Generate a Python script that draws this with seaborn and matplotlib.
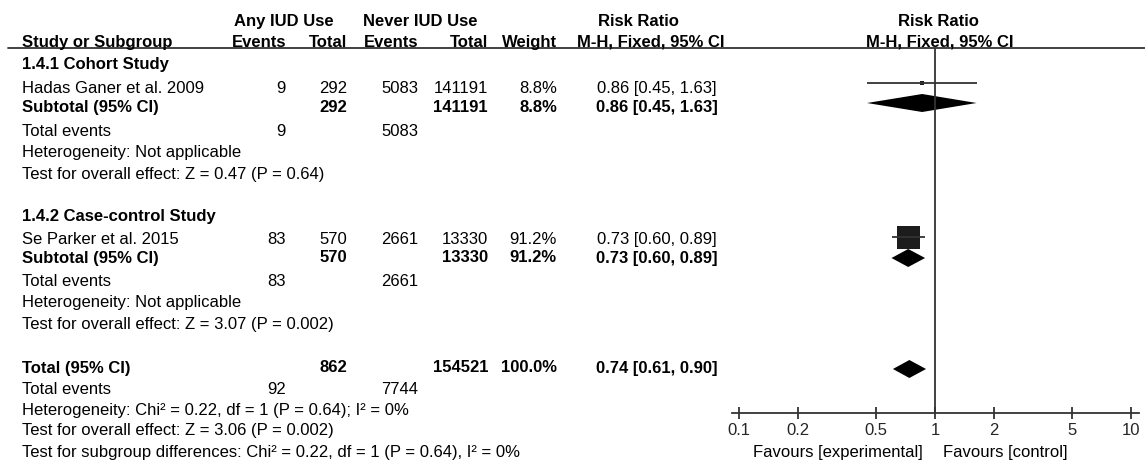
import matplotlib
matplotlib.use("Agg")
import matplotlib.pyplot as plt
import numpy as np
import seaborn as sns

# ── data ───────────────────────────────────────────────────────────────────────
study_names = ["Hadas Ganer et al. 2009", "Se Parker et al. 2015"]
any_events = [9, 83]
any_total = [292, 570]
never_events = [5083, 2661]
never_total = [141191, 13330]
weights = [8.8, 91.2]
rr = [0.86, 0.73]
rr_lo = [0.45, 0.60]
rr_hi = [1.63, 0.89]

group_titles = ["1.4.1 Cohort Study", "1.4.2 Case-control Study"]
group_het = ["Heterogeneity: Not applicable", "Heterogeneity: Not applicable"]
group_test = ["Test for overall effect: Z = 0.47 (P = 0.64)",
              "Test for overall effect: Z = 3.07 (P = 0.002)"]
sub_rr = [0.86, 0.73]
sub_lo = [0.45, 0.60]
sub_hi = [1.63, 0.89]

total_any = 862
total_never = 154521
total_events_any = 92
total_events_never = 7744
total_rr, total_lo, total_hi = 0.74, 0.61, 0.90
total_notes = ["Heterogeneity: Chi² = 0.22, df = 1 (P = 0.64); I² = 0%",
               "Test for overall effect: Z = 3.06 (P = 0.002)",
               "Test for subgroup differences: Chi² = 0.22, df = 1 (P = 0.64), I² = 0%"]

xticks = [0.1, 0.2, 0.5, 1, 2, 5, 10]
xtick_labels = ["0.1", "0.2", "0.5", "1", "2", "5", "10"]

# ── layout (pixel rows / columns of the 1145x474 canvas) ───────────────────────
W, H = 1145, 474
FS = 12
sns.set_theme(style="white")
plt.rcParams["font.family"] = ["Liberation Sans", "DejaVu Sans"]

COL_X = {"ev1": 286, "tot1": 347, "ev2": 418, "tot2": 488, "wt": 557, "rr": 657}
group_rows = [64, 217]
study_rows = [88, 239]
sub_rows = [107, 258]
te_rows = [132, 282]
het_rows = [153, 303]
test_rows = [174, 324]
mark_rows = [83, 237]
dia_rows = [103, 258]
total_row, total_dia = 368, 369
total_te_row = 389
total_note_rows = [410, 431, 452]

fig = plt.figure(figsize=(W / 100, H / 100), dpi=100)
ax = fig.add_axes([0, 0, 1, 1])
ax.set_xlim(0, W)
ax.set_ylim(H, 0)
ax.axis("off")


def txt(x, y, s, ha="left", bold=False):
    ax.text(x, y, s, ha=ha, va="center", fontsize=FS,
            fontweight="bold" if bold else "normal", color="black")


# header
txt(284, 21, "Any IUD Use", ha="center", bold=True)
txt(420, 21, "Never IUD Use", ha="center", bold=True)
txt(638, 21, "Risk Ratio", ha="center", bold=True)
txt(938, 21, "Risk Ratio", ha="center", bold=True)
txt(22, 42, "Study or Subgroup", bold=True)
txt(COL_X["ev1"], 42, "Events", ha="right", bold=True)
txt(COL_X["tot1"], 42, "Total", ha="right", bold=True)
txt(COL_X["ev2"], 42, "Events", ha="right", bold=True)
txt(COL_X["tot2"], 42, "Total", ha="right", bold=True)
txt(COL_X["wt"], 42, "Weight", ha="right", bold=True)
txt(651, 42, "M-H, Fixed, 95% CI", ha="center", bold=True)
txt(940, 42, "M-H, Fixed, 95% CI", ha="center", bold=True)
ax.plot([8, W], [48, 48], color="#333333", lw=1.3)

# subgroups
for i in range(2):
    txt(22, group_rows[i], group_titles[i], bold=True)
    y = study_rows[i]
    txt(22, y, study_names[i])
    txt(COL_X["ev1"], y, str(any_events[i]), ha="right")
    txt(COL_X["tot1"], y, str(any_total[i]), ha="right")
    txt(COL_X["ev2"], y, str(never_events[i]), ha="right")
    txt(COL_X["tot2"], y, str(never_total[i]), ha="right")
    txt(COL_X["wt"], y, f"{weights[i]:.1f}%", ha="right")
    txt(COL_X["rr"], y, f"{rr[i]:.2f} [{rr_lo[i]:.2f}, {rr_hi[i]:.2f}]", ha="center")

    y = sub_rows[i]
    txt(22, y, "Subtotal (95% CI)", bold=True)
    txt(COL_X["tot1"], y, str(any_total[i]), ha="right", bold=True)
    txt(COL_X["tot2"], y, str(never_total[i]), ha="right", bold=True)
    txt(COL_X["wt"], y, f"{weights[i]:.1f}%", ha="right", bold=True)
    txt(COL_X["rr"], y, f"{sub_rr[i]:.2f} [{sub_lo[i]:.2f}, {sub_hi[i]:.2f}]",
        ha="center", bold=True)

    txt(22, te_rows[i], "Total events")
    txt(COL_X["ev1"], te_rows[i], str(any_events[i]), ha="right")
    txt(COL_X["ev2"], te_rows[i], str(never_events[i]), ha="right")
    txt(22, het_rows[i], group_het[i])
    txt(22, test_rows[i], group_test[i])

# overall
txt(22, total_row, "Total (95% CI)", bold=True)
txt(COL_X["tot1"], total_row, str(total_any), ha="right", bold=True)
txt(COL_X["tot2"], total_row, str(total_never), ha="right", bold=True)
txt(COL_X["wt"], total_row, f"{sum(weights):.1f}%", ha="right", bold=True)
txt(COL_X["rr"], total_row, f"{total_rr:.2f} [{total_lo:.2f}, {total_hi:.2f}]",
    ha="center", bold=True)
txt(22, total_te_row, "Total events")
txt(COL_X["ev1"], total_te_row, str(total_events_any), ha="right")
txt(COL_X["ev2"], total_te_row, str(total_events_never), ha="right")
for y, s in zip(total_note_rows, total_notes):
    txt(22, y, s)

# ── forest panel: log axis, 0.1 at x=739 px, 10 at x=1131 px ───────────────────
AX_L, AX_R, AX_T, AX_B = 732, 1139, 48, 413
x0, x1, dec = 739, 1131, (1131 - 739) / 2
xmin = 10 ** (-1 - (x0 - AX_L) / dec)
xmax = 10 ** (1 + (AX_R - x1) / dec)
fa = fig.add_axes([AX_L / W, (H - AX_B) / H, (AX_R - AX_L) / W, (AX_B - AX_T) / H])
fa.set_xscale("log")
fa.set_xlim(xmin, xmax)
fa.set_ylim(AX_B, AX_T)
fa.patch.set_alpha(0)
for sp in ["top", "left", "right"]:
    fa.spines[sp].set_visible(False)
fa.spines["bottom"].set_color("#333333")
fa.spines["bottom"].set_linewidth(1.3)
fa.set_yticks([])
fa.set_xticks(xticks)
fa.set_xticklabels(xtick_labels)
fa.minorticks_off()
fa.tick_params(axis="x", direction="inout", length=9, width=1.3, color="#333333",
               labelsize=FS, pad=3, bottom=True)
fa.axvline(1, color="#333333", lw=1.3)

# study squares sized by weight
side_px = [max(3.5, 23 * w / max(weights)) for w in weights]
sizes = [(s * 0.72) ** 2 for s in side_px]
fa.hlines(mark_rows, rr_lo, rr_hi, color="#333333", lw=1.3)
sns.scatterplot(x=rr, y=mark_rows, s=sizes, marker="s", color="#1c1c1c",
                linewidth=0, legend=False, ax=fa)


# diamonds
def diamond(est, lo, hi, y, h=18):
    fa.fill([lo, est, hi, est], [y, y - h / 2, y, y + h / 2], color="black", lw=0)


for i in range(2):
    diamond(sub_rr[i], sub_lo[i], sub_hi[i], dia_rows[i])
diamond(total_rr, total_lo, total_hi, total_dia)

txt(923, 452, "Favours [experimental]", ha="right")
txt(943, 452, "Favours [control]", ha="left")

fig.savefig("out.png", dpi=100)
